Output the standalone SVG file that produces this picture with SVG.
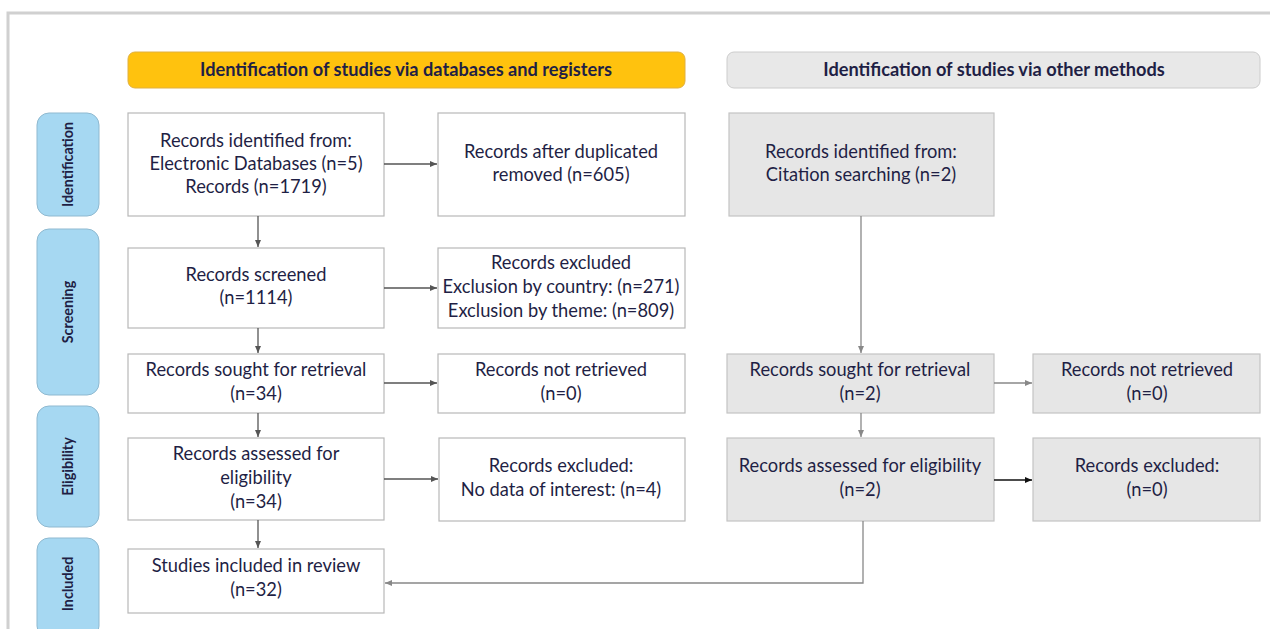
<svg xmlns="http://www.w3.org/2000/svg" width="1270" height="629" viewBox="0 0 1270 629">
<defs>
<marker id="ah" markerWidth="8" markerHeight="8" refX="7" refY="4" orient="auto" markerUnits="userSpaceOnUse"><path d="M0,1 L7,4 L0,7 Z" fill="#555"/></marker>
<marker id="ahg" markerWidth="8" markerHeight="8" refX="7" refY="4" orient="auto" markerUnits="userSpaceOnUse"><path d="M0,1 L7,4 L0,7 Z" fill="#888"/></marker>
<marker id="ahb" markerWidth="8" markerHeight="8" refX="7" refY="4" orient="auto" markerUnits="userSpaceOnUse"><path d="M0,1 L7,4 L0,7 Z" fill="#111"/></marker>
</defs>
<style>
text{font-family:Lato,"Open Sans","Liberation Sans",sans-serif;fill:#1f1f45;text-anchor:middle}
.t{font-size:18.3px}
.h{font-size:18.2px;font-weight:bold}
.s{font-size:14.3px;font-weight:bold}
.w{fill:#fff;stroke:#b8b8b8;stroke-width:1.2}
.g{fill:#e6e6e6;stroke:#c4c4c4;stroke-width:1.2}
.side{fill:#a6d8f2;stroke:#8fb9d0;stroke-width:1}
.c{fill:none;stroke:#555;stroke-width:1.3}
.cg{fill:none;stroke:#888;stroke-width:1.3}
.cb{fill:none;stroke:#111;stroke-width:1.3}
</style>
<rect width="1270" height="629" fill="#fff"/>
<path d="M8,629 V13 H1270" fill="none" stroke="#d0d0d0" stroke-width="3"/>

<g id="hdr-db"><rect x="128" y="52" width="557" height="36" rx="7" fill="#ffc20e" stroke="#e0b040"/><text class="h" x="406" y="76">Identification of studies via databases and registers</text></g>
<g id="hdr-other"><rect x="727" y="52" width="533" height="36" rx="7" fill="#e8e8e8" stroke="#cccccc"/><text class="h" x="994" y="76">Identification of studies via other methods</text></g>

<g id="side-identification"><rect class="side" x="37" y="113" width="62" height="103" rx="12"/><text class="s" transform="translate(73,164.5) rotate(-90)">Identification</text></g>
<g id="side-screening"><rect class="side" x="37" y="229" width="62" height="166" rx="12"/><text class="s" transform="translate(73,312) rotate(-90)">Screening</text></g>
<g id="side-eligibility"><rect class="side" x="37" y="406" width="62" height="121" rx="12"/><text class="s" transform="translate(73,466.5) rotate(-90)">Eligibility</text></g>
<g id="side-included"><rect class="side" x="37" y="538" width="62" height="100" rx="12"/><text class="s" transform="translate(73,584) rotate(-90)">Included</text></g>

<g id="n-identified"><rect class="w" x="128" y="113" width="256" height="103"/><text class="t" x="256" y="147">Records identified from:</text><text class="t" x="256" y="170">Electronic Databases (n=5)</text><text class="t" x="256" y="193">Records (n=1719)</text></g>
<g id="n-dedup"><rect class="w" x="438" y="113" width="247" height="103"/><text class="t" x="561" y="158">Records after duplicated</text><text class="t" x="561" y="181">removed (n=605)</text></g>
<g id="n-screened"><rect class="w" x="128" y="248" width="256" height="80"/><text class="t" x="256" y="281">Records screened</text><text class="t" x="256" y="304">(n=1114)</text></g>
<g id="n-excluded1"><rect class="w" x="438" y="248" width="247" height="80"/><text class="t" x="561" y="269">Records excluded</text><text class="t" x="561" y="293">Exclusion by country: (n=271)</text><text class="t" x="561" y="317">Exclusion by theme: (n=809)</text></g>
<g id="n-sought"><rect class="w" x="128" y="354" width="256" height="59"/><text class="t" x="256" y="376">Records sought for retrieval</text><text class="t" x="256" y="400">(n=34)</text></g>
<g id="n-notretrieved"><rect class="w" x="438" y="354" width="247" height="59"/><text class="t" x="561" y="376">Records not retrieved</text><text class="t" x="561" y="400">(n=0)</text></g>
<g id="n-assessed"><rect class="w" x="128" y="438" width="256" height="82"/><text class="t" x="256" y="460">Records assessed for</text><text class="t" x="256" y="484">eligibility</text><text class="t" x="256" y="508">(n=34)</text></g>
<g id="n-excluded2"><rect class="w" x="439" y="438" width="246" height="83"/><text class="t" x="561" y="472">Records excluded:</text><text class="t" x="561" y="496">No data of interest: (n=4)</text></g>
<g id="n-included"><rect class="w" x="128" y="549" width="256" height="64"/><text class="t" x="256" y="572">Studies included in review</text><text class="t" x="256" y="596">(n=32)</text></g>

<g id="o-citation"><rect class="g" x="729" y="113" width="265" height="103"/><text class="t" x="861" y="158">Records identified from:</text><text class="t" x="861" y="181">Citation searching (n=2)</text></g>
<g id="o-sought"><rect class="g" x="727" y="354" width="267" height="59"/><text class="t" x="860" y="376">Records sought for retrieval</text><text class="t" x="860" y="400">(n=2)</text></g>
<g id="o-notretrieved"><rect class="g" x="1033" y="354" width="227" height="59"/><text class="t" x="1147" y="376">Records not retrieved</text><text class="t" x="1147" y="400">(n=0)</text></g>
<g id="o-assessed"><rect class="g" x="727" y="438" width="267" height="83"/><text class="t" x="860" y="472">Records assessed for eligibility</text><text class="t" x="860" y="496">(n=2)</text></g>
<g id="o-excluded"><rect class="g" x="1033" y="438" width="227" height="83"/><text class="t" x="1147" y="472">Records excluded:</text><text class="t" x="1147" y="496">(n=0)</text></g>

<g id="connectors">
<path class="c" d="M384,164 H437" marker-end="url(#ah)"/>
<path class="c" d="M258,216 V247" marker-end="url(#ah)"/>
<path class="c" d="M384,288 H437" marker-end="url(#ah)"/>
<path class="c" d="M258,328 V353" marker-end="url(#ah)"/>
<path class="c" d="M384,383 H437" marker-end="url(#ah)"/>
<path class="c" d="M258,413 V437" marker-end="url(#ah)"/>
<path class="c" d="M384,479 H438" marker-end="url(#ah)"/>
<path class="c" d="M258,520 V548" marker-end="url(#ah)"/>
<path class="cg" d="M861,216 V353" marker-end="url(#ahg)"/>
<path class="cg" d="M994,383 H1032" marker-end="url(#ahg)"/>
<path class="cg" d="M861,413 V437" marker-end="url(#ahg)"/>
<path class="cb" d="M994,480 H1032" marker-end="url(#ahb)"/>
<path class="cg" d="M863,521 V583 H385" marker-end="url(#ahg)"/>
</g>
</svg>
